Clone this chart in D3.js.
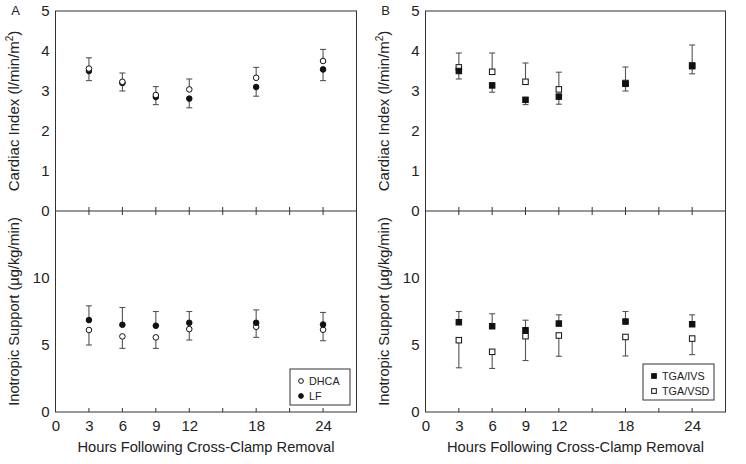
<!DOCTYPE html>
<html><head><meta charset="utf-8">
<script src="https://cdn.jsdelivr.net/npm/d3@7"></script>
<style>body{margin:0;background:#fff}svg{display:block}text{font-family:"Liberation Sans",Arial,Helvetica,sans-serif;fill:#222}</style>
</head><body><svg id="c" width="746" height="464"></svg>
<script>
// ---- data ----
const hours = [3, 6, 9, 12, 18, 24];
const xTickLabels = [0, 3, 6, 9, 12, 18, 24];
const xTickMarks = [3, 6, 9, 12, 15, 18, 21, 24];
const ciTicks = [0, 1, 2, 3, 4, 5];
const isTicks = [0, 5, 10];

// Panel A: cardiac index
const ciDHCA = [3.56, 3.23, 2.90, 3.04, 3.33, 3.75];
const ciDHCAErr = [0.27, 0.22, 0.21, 0.26, 0.26, 0.29];   // upward
const ciLF = [3.50, 3.20, 2.85, 2.81, 3.10, 3.54];
const ciLFErr = [0.24, 0.20, 0.19, 0.23, 0.23, 0.28];     // downward
// Panel A: inotropic support
const isLF = [6.86, 6.51, 6.44, 6.66, 6.66, 6.53];
const isLFErr = [1.06, 1.29, 1.06, 0.84, 0.96, 0.90];     // upward
const isDHCA = [6.12, 5.64, 5.57, 6.19, 6.36, 6.14];
const isDHCAErr = [1.12, 0.89, 0.82, 0.82, 0.79, 0.82];   // downward

// Panel B: cardiac index
const ciVSD = [3.59, 3.48, 3.23, 3.04, 3.20, 3.64];
const ciVSDErr = [0.36, 0.47, 0.47, 0.43, 0.40, 0.51];    // upward
const ciIVS = [3.50, 3.14, 2.78, 2.86, 3.18, 3.62];
const ciIVSErr = [0.20, 0.17, 0.12, 0.19, 0.18, 0.19];    // downward
// Panel B: inotropic support
const isIVS = [6.70, 6.40, 6.10, 6.60, 6.75, 6.55];
const isIVSErr = [0.80, 0.93, 0.75, 0.65, 0.75, 0.70];    // upward
const isVSD = [5.36, 4.49, 5.66, 5.71, 5.60, 5.48];
const isVSDErr = [2.06, 1.24, 1.82, 1.55, 1.42, 1.20];    // downward

// ---- drawing ----
const svg = d3.select("#c");
const yTop = 11, yMid = 211, yBot = 412;
const yCI = d3.scaleLinear().domain([0, 5]).range([yMid, yTop]);
const yIS = d3.scaleLinear().domain([0, 15]).range([yBot, yMid]);
const LINE = "#333", ERR = "#555";

function panel(letter, x0, x1, series, legend) {
  const x = d3.scaleLinear().domain([0, 27]).range([x0, x1]);
  const g = svg.append("g");

  // frame + divider
  g.append("rect").attr("x", x0).attr("y", yTop).attr("width", x1 - x0).attr("height", yBot - yTop)
    .attr("fill", "none").attr("stroke", LINE).attr("stroke-width", 1);
  g.append("line").attr("x1", x0).attr("x2", x1).attr("y1", yMid).attr("y2", yMid)
    .attr("stroke", LINE);

  // tick marks (divider both sides, bottom inward)
  const tm = g.append("g").attr("stroke", LINE);
  xTickMarks.forEach(h => {
    tm.append("line").attr("x1", x(h)).attr("x2", x(h)).attr("y1", yMid - 4).attr("y2", yMid + 4);
    tm.append("line").attr("x1", x(h)).attr("x2", x(h)).attr("y1", yBot - 4).attr("y2", yBot);
  });

  // x labels via axis
  const xa = g.append("g").attr("transform", `translate(0,${yBot})`)
    .call(d3.axisBottom(x).tickValues(xTickLabels).tickSize(0).tickPadding(8).tickFormat(d3.format("d")));
  xa.select(".domain").remove();
  xa.selectAll("text").attr("font-size", 15).attr("fill", "#222")
    .style("font-family", '"Liberation Sans",Arial,sans-serif');

  // y labels via axes
  const ya1 = g.append("g").attr("transform", `translate(${x0},0)`)
    .call(d3.axisLeft(yCI).tickValues(ciTicks).tickSize(0).tickPadding(6).tickFormat(d3.format("d")));
  const ya2 = g.append("g").attr("transform", `translate(${x0},0)`)
    .call(d3.axisLeft(yIS).tickValues(isTicks.filter(v => v > 0)).tickSize(0).tickPadding(6).tickFormat(d3.format("d")));
  [ya1, ya2].forEach(a => {
    a.select(".domain").remove();
    a.selectAll("text").attr("font-size", 15).attr("fill", "#222")
      .style("font-family", '"Liberation Sans",Arial,sans-serif');
  });
  // bottom 0 label
  g.append("text").attr("x", x0 - 6).attr("y", yIS(0)).attr("dy", "0.32em")
    .attr("text-anchor", "end").attr("font-size", 15).text("0");

  // axis titles
  const t1 = g.append("text").attr("transform", `translate(${x0 - 37},${(yTop + yMid) / 2}) rotate(-90)`)
    .attr("text-anchor", "middle").attr("font-size", 15);
  t1.append("tspan").text("Cardiac Index (l/min/m");
  t1.append("tspan").attr("font-size", 10).attr("dy", -6).text("2");
  t1.append("tspan").attr("dy", 6).text(")");
  g.append("text").attr("transform", `translate(${x0 - 37},${(yMid + yBot) / 2}) rotate(-90)`)
    .attr("text-anchor", "middle").attr("font-size", 14.6).text("Inotropic Support (\u00b5g/kg/min)");
  g.append("text").attr("x", (x0 + x1) / 2).attr("y", 452).attr("text-anchor", "middle")
    .attr("font-size", 14.7).text("Hours Following Cross-Clamp Removal");
  g.append("text").attr("x", x0 - 40).attr("y", 15).attr("text-anchor", "middle")
    .attr("font-size", 13).text(letter);

  // series
  series.forEach(s => {
    const sg = g.append("g");
    hours.forEach((h, i) => {
      const cx = x(h), v = s.vals[i], e = s.err[i] * s.dir;
      const ye = s.y(v + e);
      sg.append("line").attr("x1", cx).attr("x2", cx).attr("y1", s.y(v)).attr("y2", ye)
        .attr("stroke", ERR).attr("stroke-width", 1.1);
      sg.append("line").attr("x1", cx - 3).attr("x2", cx + 3).attr("y1", ye).attr("y2", ye)
        .attr("stroke", ERR).attr("stroke-width", 1.1);
    });
  });
  series.forEach(s => {
    const sg = g.append("g");
    hours.forEach((h, i) => {
      const cx = x(h), cy = s.y(s.vals[i]);
      drawMarker(sg, s.shape, s.filled, cx, cy);
    });
  });

  // legend
  const lg = g.append("g");
  lg.append("rect").attr("x", legend.x).attr("y", legend.y).attr("width", legend.w).attr("height", legend.h)
    .attr("fill", "#fff").attr("stroke", LINE);
  legend.items.forEach((it, i) => {
    const cy = legend.y + 12 + i * 15;
    drawMarker(lg, it.shape, it.filled, legend.x + 11, cy, 0.85);
    lg.append("text").attr("x", legend.x + 19).attr("y", cy).attr("dy", "0.35em")
      .attr("font-size", 10.8).text(it.name);
  });
}

function drawMarker(g, shape, filled, cx, cy, k = 1) {
  if (shape === "circle") {
    g.append("circle").attr("cx", cx).attr("cy", cy).attr("r", 2.8 * k)
      .attr("fill", filled ? "#111" : "#fff").attr("stroke", "#111").attr("stroke-width", 1);
  } else {
    const s = 5.5 * k;
    g.append("rect").attr("x", cx - s / 2).attr("y", cy - s / 2).attr("width", s).attr("height", s)
      .attr("fill", filled ? "#111" : "#fff").attr("stroke", "#111").attr("stroke-width", 1);
  }
}

panel("A", 55.5, 356.5, [
  { vals: ciLF, err: ciLFErr, dir: -1, y: yCI, shape: "circle", filled: true },
  { vals: ciDHCA, err: ciDHCAErr, dir: 1, y: yCI, shape: "circle", filled: false },
  { vals: isDHCA, err: isDHCAErr, dir: -1, y: yIS, shape: "circle", filled: false },
  { vals: isLF, err: isLFErr, dir: 1, y: yIS, shape: "circle", filled: true }
], { x: 290, y: 369, w: 60, h: 36, items: [
  { name: "DHCA", shape: "circle", filled: false },
  { name: "LF", shape: "circle", filled: true }
] });

panel("B", 425.5, 725.5, [
  { vals: ciVSD, err: ciVSDErr, dir: 1, y: yCI, shape: "square", filled: false },
  { vals: ciIVS, err: ciIVSErr, dir: -1, y: yCI, shape: "square", filled: true },
  { vals: isVSD, err: isVSDErr, dir: -1, y: yIS, shape: "square", filled: false },
  { vals: isIVS, err: isIVSErr, dir: 1, y: yIS, shape: "square", filled: true }
], { x: 643, y: 364, w: 71, h: 36, items: [
  { name: "TGA/IVS", shape: "square", filled: true },
  { name: "TGA/VSD", shape: "square", filled: false }
] });
</script></body></html>
